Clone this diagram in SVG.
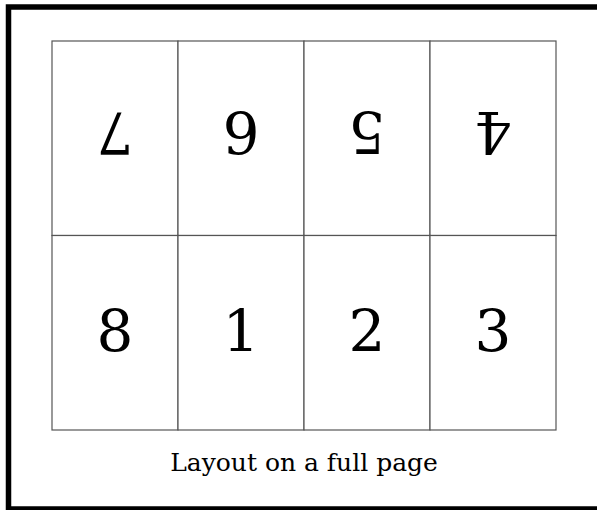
<svg xmlns="http://www.w3.org/2000/svg" width="597" height="510" viewBox="0 0 597 510">
<style>
.frame{fill:none;stroke:#000;stroke-width:5.5}
.cell{fill:#fff;stroke:#555;stroke-width:1.2}
.num{font-family:"DejaVu Serif",serif;font-size:58px;fill:#000;text-anchor:middle}
.cap{font-family:"DejaVu Serif",serif;font-size:25px;fill:#000;text-anchor:middle}
</style>
<rect width="597" height="510" fill="#fff"/>
<rect class="frame" x="8.5" y="7" width="600" height="502"/>
<g id="p7"><rect class="cell" x="52" y="41" width="126" height="194.5"/><text class="num" x="115" y="112" transform="rotate(180 115 112)">7</text></g>
<g id="p6"><rect class="cell" x="178" y="41" width="126" height="194.5"/><text class="num" x="241" y="112" transform="rotate(180 241 112)">6</text></g>
<g id="p5"><rect class="cell" x="304" y="41" width="126" height="194.5"/><text class="num" x="367" y="112" transform="rotate(180 367 112)">5</text></g>
<g id="p4"><rect class="cell" x="430" y="41" width="126" height="194.5"/><text class="num" x="493" y="112" transform="rotate(180 493 112)">4</text></g>
<g id="p8"><rect class="cell" x="52" y="235.5" width="126" height="194.5"/><text class="num" x="115" y="351">8</text></g>
<g id="p1"><rect class="cell" x="178" y="235.5" width="126" height="194.5"/><text class="num" x="241" y="351">1</text></g>
<g id="p2"><rect class="cell" x="304" y="235.5" width="126" height="194.5"/><text class="num" x="367" y="351">2</text></g>
<g id="p3"><rect class="cell" x="430" y="235.5" width="126" height="194.5"/><text class="num" x="493" y="351">3</text></g>
<g id="connectors"></g>
<text class="cap" x="304" y="471">Layout on a full page</text>
</svg>
